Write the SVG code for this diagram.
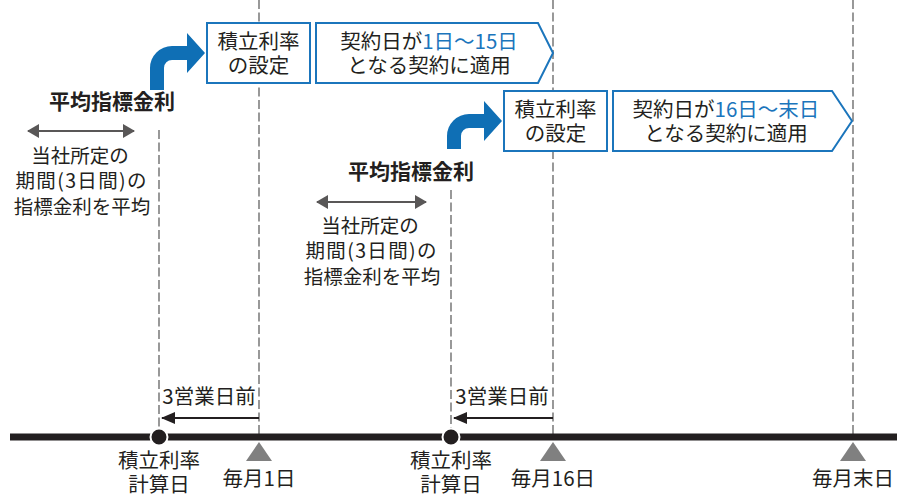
<svg xmlns="http://www.w3.org/2000/svg" width="897" height="497" viewBox="0 0 897 497">
<style>
text{font-family:"Noto Sans CJK JP","Noto Sans",sans-serif;fill:#231f20;font-size:20.5px;text-anchor:middle}
.b{font-weight:bold;font-size:21px}
.d{font-size:19.5px}
.blue{fill:#1b75bc}
.box{fill:#fff;stroke:#1b75bc;stroke-width:2}
.dash{stroke:#555;stroke-width:1.2;stroke-dasharray:9 3.5;fill:none}
.bend{fill:#0f6fb5}
.tri{fill:#808080}
.dbl{stroke:#595757;stroke-width:2.2}
</style>
<defs>
<marker id="ga" viewBox="0 0 12 14" refX="11" refY="7" markerWidth="12" markerHeight="14" markerUnits="userSpaceOnUse" orient="auto-start-reverse"><path d="M0,0 L12,7 L0,14 Z" fill="#595757"/></marker>
<marker id="ka" viewBox="0 0 14 12" refX="13" refY="6" markerWidth="14" markerHeight="12" markerUnits="userSpaceOnUse" orient="auto"><path d="M0,0 L14,6 L0,12 Z" fill="#231f20"/></marker>
</defs>

<g id="connectors">
<line class="dash" x1="159" y1="130" x2="159" y2="437"/>
<line class="dash" x1="259" y1="0" x2="259" y2="437"/>
<line class="dash" x1="451" y1="190" x2="451" y2="437"/>
<line class="dash" x1="553" y1="0" x2="553" y2="437"/>
<line class="dash" x1="853" y1="0" x2="853" y2="437"/>
<line x1="10" y1="437" x2="897" y2="437" stroke="#231f20" stroke-width="7"/>
<line class="dbl" x1="28" y1="131" x2="134" y2="131" marker-start="url(#ga)" marker-end="url(#ga)"/>
<line class="dbl" x1="317" y1="202" x2="426" y2="202" marker-start="url(#ga)" marker-end="url(#ga)"/>
<line x1="259" y1="418" x2="162" y2="418" stroke="#231f20" stroke-width="2" marker-end="url(#ka)"/>
<line x1="553" y1="418" x2="454" y2="418" stroke="#231f20" stroke-width="2" marker-end="url(#ka)"/>
<path class="bend" d="M150,90 L150,68 A22,22 0 0 1 172,46 L187,46 L187,33 L205,53 L187,73 L187,60 L172,60 A8,8 0 0 0 164,68 L164,90 Z"/>
<path class="bend" d="M447,149 L447,136 A22,22 0 0 1 469,114 L484,114 L484,101 L502,121 L484,141 L484,128 L469,128 A8,8 0 0 0 461,136 L461,149 Z"/>
</g>

<g id="setting1">
<rect class="box" x="207" y="23" width="103" height="60"/>
<text x="258.5" y="48.5">積立利率</text>
<text x="258.5" y="72.5">の設定</text>
</g>
<g id="apply1">
<path class="box" d="M316,23 L538,23 L553,53 L538,83 L316,83 Z"/>
<text x="429" y="48.5">契約日が<tspan class="blue">1日～15日</tspan></text>
<text x="429" y="72.5">となる契約に適用</text>
</g>
<g id="setting2">
<rect class="box" x="504" y="91" width="103" height="60"/>
<text x="555.5" y="116.5">積立利率</text>
<text x="555.5" y="140.5">の設定</text>
</g>
<g id="apply2">
<path class="box" d="M613,91 L832,91 L852,121 L832,151 L613,151 Z"/>
<text x="726" y="116.5">契約日が<tspan class="blue">16日～末日</tspan></text>
<text x="726" y="140.5">となる契約に適用</text>
</g>

<g id="avg1">
<text class="b" x="112" y="108.5">平均指標金利</text>
<text class="d" x="80" y="162.5">当社所定の</text>
<text class="d" x="81" y="188" textLength="131" lengthAdjust="spacing">期間(3日間)の</text>
<text class="d" x="82" y="213.5">指標金利を平均</text>
</g>
<g id="avg2">
<text class="b" x="411" y="178.5">平均指標金利</text>
<text class="d" x="370" y="232.5">当社所定の</text>
<text class="d" x="371" y="258" textLength="131" lengthAdjust="spacing">期間(3日間)の</text>
<text class="d" x="372" y="283.5">指標金利を平均</text>
</g>

<g id="lag1"><text x="209" y="404">3営業日前</text></g>
<g id="lag2"><text x="502" y="404">3営業日前</text></g>

<g id="calc1">
<circle cx="159" cy="437" r="8.5" fill="#231f20" stroke="#fff" stroke-width="2"/>
<text x="159" y="467.5">積立利率</text>
<text x="159" y="492">計算日</text>
</g>
<g id="calc2">
<circle cx="451" cy="437" r="8.5" fill="#231f20" stroke="#fff" stroke-width="2"/>
<text x="451" y="467.5">積立利率</text>
<text x="451" y="492">計算日</text>
</g>
<g id="day1">
<path class="tri" d="M259,442 L272,461 L246,461 Z"/>
<text x="259" y="486">毎月1日</text>
</g>
<g id="day16">
<path class="tri" d="M553,442 L566,461 L540,461 Z"/>
<text x="553" y="486">毎月16日</text>
</g>
<g id="dayEnd">
<path class="tri" d="M853,442 L866,461 L840,461 Z"/>
<text x="853" y="486">毎月末日</text>
</g>
</svg>
